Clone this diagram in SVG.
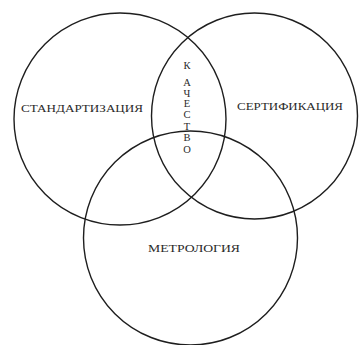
<svg xmlns="http://www.w3.org/2000/svg" width="360" height="345" viewBox="0 0 360 345">
<style>
.c{fill:none;stroke:#1e1e1e;stroke-width:1.4}
.t{font-family:"Liberation Serif","Times New Roman",serif;font-size:10.5px;fill:#2a2a2a}
.v{font-family:"Liberation Serif","Times New Roman",serif;font-size:10.5px;fill:#2a2a2a;text-anchor:middle}
</style>
<rect width="360" height="345" fill="#ffffff"/>
<g id="standartizatsiya">
<circle class="c" cx="120" cy="119" r="106"/>
<text class="t" x="21" y="112" textLength="122" lengthAdjust="spacingAndGlyphs">СТАНДАРТИЗАЦИЯ</text>
</g>
<g id="sertifikatsiya">
<circle class="c" cx="254.5" cy="116" r="103"/>
<text class="t" x="237" y="110" textLength="106" lengthAdjust="spacingAndGlyphs">СЕРТИФИКАЦИЯ</text>
</g>
<g id="metrologiya">
<circle class="c" cx="190.5" cy="238" r="107"/>
<text class="t" x="148" y="252" textLength="92" lengthAdjust="spacingAndGlyphs">МЕТРОЛОГИЯ</text>
</g>
<g id="kachestvo">
<text class="v" x="187" y="69">К</text>
<text class="v" x="187" y="86">А</text>
<text class="v" x="187" y="97">Ч</text>
<text class="v" x="187" y="107">Е</text>
<text class="v" x="187" y="118">С</text>
<text class="v" x="187" y="130">Т</text>
<text class="v" x="187" y="141">В</text>
<text class="v" x="187" y="153">О</text>
</g>
<g id="connectors"></g>
</svg>
